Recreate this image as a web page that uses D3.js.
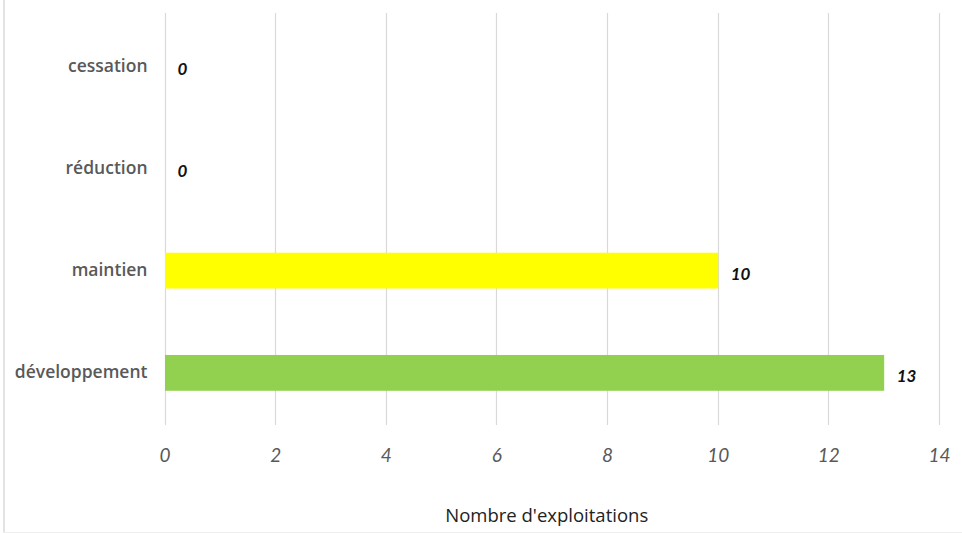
<!DOCTYPE html>
<html>
<head>
<meta charset="utf-8">
<script src="https://cdn.jsdelivr.net/npm/d3@7"></script>
<style>
  html, body { margin: 0; padding: 0; background: #fff; }
  svg { display: block; }
</style>
</head>
<body>
<svg id="chart" width="962" height="533"></svg>
<script>
// Intentions d'évolution des exploitations
const categories = ["cessation", "réduction", "maintien", "développement"];
const values = [0, 0, 10, 13];
const barColors = ["#FFFF00", "#FFFF00", "#FFFF00", "#92D050"];
const xTicks = [0, 2, 4, 6, 8, 10, 12, 14];
const xTitle = "Nombre d'exploitations";

const svg = d3.select("#chart");
const W = 962, H = 533;
const plot = { left: 164.5, right: 939, top: 15, bottom: 424 };

// frame edges
svg.append("rect").attr("x", 3).attr("y", 0).attr("width", 2).attr("height", H).attr("fill", "#e3e3e3");
svg.append("line").attr("x1", 3).attr("x2", W).attr("y1", 532.5).attr("y2", 532.5)
  .attr("stroke", "#eeeeee").attr("stroke-width", 1);

const x = d3.scaleLinear().domain([0, 14]).range([plot.left, plot.right]);
const y = d3.scaleBand().domain(categories).range([plot.top, plot.bottom])
  .paddingInner(0.65).paddingOuter(0.325);

// vertical gridlines
svg.append("g").selectAll("line").data(xTicks).join("line")
  .attr("x1", d => Math.round(x(d)) + 0.5).attr("x2", d => Math.round(x(d)) + 0.5)
  .attr("y1", 13).attr("y2", 425)
  .attr("stroke", "#d9d9d9").attr("stroke-width", 1.2);

// x axis tick labels
const xAxis = d3.axisBottom(x).tickValues(xTicks).tickSize(0).tickPadding(0);
const gx = svg.append("g").attr("transform", `translate(0, 448)`).call(xAxis);
gx.select(".domain").remove();
gx.selectAll("text")
  .attr("font-family", "Lato, 'Open Sans', sans-serif")
  .attr("font-style", "italic")
  .attr("font-size", 19)
  .attr("fill", "#595959")
  .attr("dy", "0.71em");

// category labels
const yAxis = d3.axisLeft(y).tickSize(0).tickPadding(17);
const gy = svg.append("g").attr("transform", `translate(${plot.left}, 0)`).call(yAxis);
gy.select(".domain").remove();
gy.selectAll("text")
  .attr("font-family", "'Open Sans', Lato, sans-serif")
  .attr("font-size", 17.5)
  .attr("font-weight", 600)
  .attr("fill", "#595959");

// bars
svg.append("g").selectAll("rect").data(categories).join("rect")
  .attr("x", x(0) + 0.5)
  .attr("y", d => y(d))
  .attr("width", (d, i) => x(values[i]) - x(0))
  .attr("height", y.bandwidth())
  .attr("fill", (d, i) => barColors[i]);

// value labels
svg.append("g").selectAll("text").data(categories).join("text")
  .attr("x", (d, i) => x(values[i]) + 13)
  .attr("y", d => y(d) + y.bandwidth() / 2 + 3)
  .attr("dy", "0.35em")
  .attr("font-family", "Lato, 'Open Sans', sans-serif")
  .attr("font-style", "italic")
  .attr("font-weight", "bold")
  .attr("font-size", 17)
  .attr("fill", "#111")
  .text((d, i) => values[i]);

// axis title
svg.append("text")
  .attr("x", (plot.left + plot.right) / 2 - 5)
  .attr("y", 522)
  .attr("text-anchor", "middle")
  .attr("font-family", "'Open Sans', Lato, sans-serif")
  .attr("font-size", 18.5)
  .attr("fill", "#222")
  .text(xTitle);
</script>
</body>
</html>
